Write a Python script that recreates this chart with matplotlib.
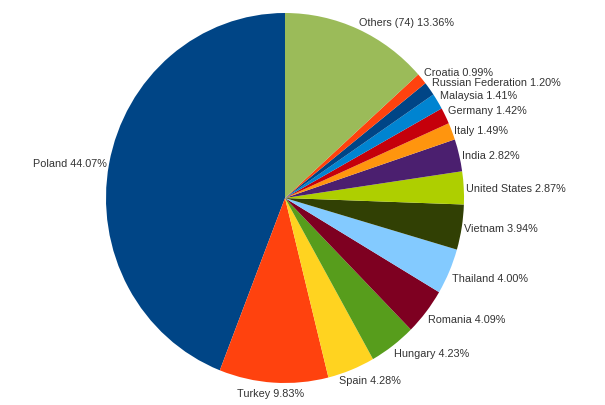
import numpy as np
import matplotlib
matplotlib.use("Agg")
import matplotlib.pyplot as plt

countries = ["Poland", "Turkey", "Spain", "Hungary", "Romania", "Thailand",
             "Vietnam", "United States", "India", "Italy", "Germany",
             "Malaysia", "Russian Federation", "Croatia", "Others (74)"]
shares = [44.07, 9.83, 4.28, 4.23, 4.09, 4.00, 3.94, 2.87, 2.82, 1.49,
          1.42, 1.41, 1.20, 0.99, 13.36]
colors = ["#004586", "#ff420e", "#ffd320", "#579d1c", "#7e0021", "#83caff",
          "#314004", "#aecf00", "#4b1f6f", "#ff950e", "#c5000b", "#0084d1",
          "#004586", "#ff420e", "#9bbb59"]

W, H = 605, 406
fig = plt.figure(figsize=(W / 100, H / 100), dpi=100)
# pie is drawn a bit taller than wide, like the original
cx, cy, rx, ry = 285, 199, 179, 185
ax = fig.add_axes([(cx - rx) / W, (H - cy - ry) / H, 2 * rx / W, 2 * ry / H])

wedges, _ = ax.pie(shares, colors=colors, startangle=90, counterclock=True,
                   radius=1.0, wedgeprops=dict(linewidth=0))
ax.set_aspect("auto")
ax.set_xlim(-1, 1)
ax.set_ylim(-1, 1)
ax.axis("off")

for w, name, val in zip(wedges, countries, shares):
    ang = (w.theta1 + w.theta2) / 2
    a = np.deg2rad(ang)
    r = 1.015
    dx = 0
    # octant based alignment
    d = ang % 360
    if d < 22.5 or d >= 337.5:
        ha, va = "left", "center"
    elif d < 67.5:
        ha, va = "left", "bottom"
    elif d < 112.5:
        ha, va = "center", "bottom"
    elif d < 157.5:
        ha, va = "right", "bottom"
    elif d < 202.5:
        ha, va = "right", "center"
    elif d < 247.5:
        ha, va = "right", "top"
    elif d < 292.5:
        ha, va = "center", "top"
    else:
        ha, va = "left", "top"
    if ha == "center":
        r = 1.03
        dx = 32 * np.cos(a)  # push sideways a little, away from the pie
    ax.annotate(f"{name} {val:.2f}%", xy=(r * np.cos(a), r * np.sin(a)),
                xytext=(dx, 0), textcoords="offset points",
                ha=ha, va=va, fontsize=7.8, family="Liberation Sans",
                color="#333333", annotation_clip=False)

fig.savefig("out.png", dpi=100)
